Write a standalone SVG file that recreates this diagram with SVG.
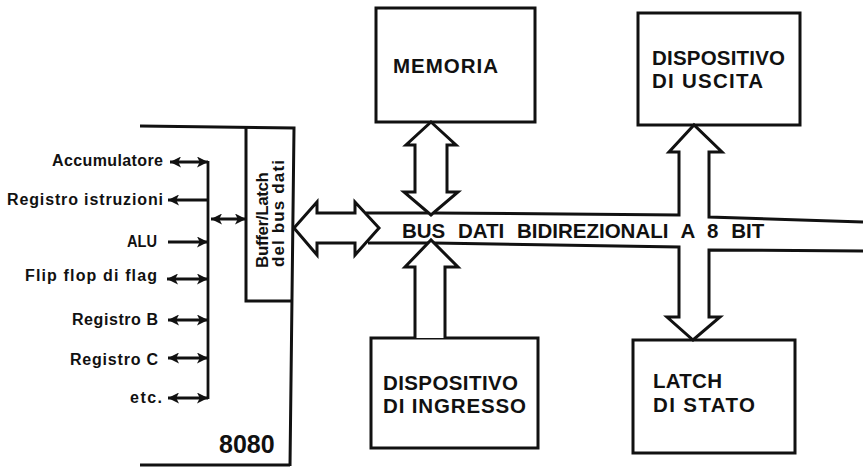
<svg xmlns="http://www.w3.org/2000/svg" width="863" height="468" viewBox="0 0 863 468">
  <style>
    .ln { fill: none; stroke: #111; stroke-width: 3; stroke-linejoin: miter; }
    .thin { fill: none; stroke: #111; stroke-width: 2.8; }
    .box { fill: #fff; stroke: #111; stroke-width: 3; }
    .wa { fill: #fff; stroke: #111; stroke-width: 3; stroke-linejoin: miter; }
    .t { font-family: "Liberation Sans", Arial, sans-serif; font-weight: bold; fill: #111; }
    .lab { font-size: 16px; }
    .big { font-size: 20.5px; }
  </style>
  <defs>
    <marker id="ah" viewBox="0 0 10 10" refX="10" refY="5" markerWidth="12" markerHeight="11" markerUnits="userSpaceOnUse" orient="auto-start-reverse">
      <path d="M0,0 L10,5 L0,10 L2.5,5 z" fill="#111"/>
    </marker>
  </defs>
  <rect width="863" height="468" fill="#fff"/>

  <g id="cpu">
    <polyline class="ln" points="140,126 294,128 290,466"/>
    <line class="ln" x1="140" y1="465" x2="290" y2="465"/>
    <text class="t" x="219" y="453" font-size="25">8080</text>
    <text class="t lab" x="52" y="166" textLength="111" lengthAdjust="spacing">Accumulatore</text>
    <text class="t lab" x="7" y="205" textLength="156" lengthAdjust="spacing">Registro  istruzioni</text>
    <text class="t lab" x="127" y="247" textLength="30" lengthAdjust="spacingAndGlyphs">ALU</text>
    <text class="t lab" x="25" y="281" textLength="132" lengthAdjust="spacing">Flip flop di flag</text>
    <text class="t lab" x="72" y="325" textLength="86" lengthAdjust="spacing">Registro B</text>
    <text class="t lab" x="70" y="365" textLength="88" lengthAdjust="spacing">Registro C</text>
    <text class="t lab" x="130" y="403" textLength="32" lengthAdjust="spacing">etc.</text>
  </g>

  <g id="buffer">
    <polyline class="ln" points="246,127 246,301 292,301"/>
    <text class="t" font-size="17" transform="translate(268,268) rotate(-90)" textLength="96" lengthAdjust="spacing">Buffer/Latch</text>
    <text class="t" font-size="17" transform="translate(284,267) rotate(-90)" textLength="107" lengthAdjust="spacing">del bus dati</text>
  </g>

  <g id="memoria">
    <rect class="box" x="376" y="8" width="159" height="114"/>
    <text class="t big" x="393" y="73" textLength="105" lengthAdjust="spacing">MEMORIA</text>
  </g>

  <g id="uscita">
    <rect class="box" x="638" y="13" width="162" height="112"/>
    <text class="t big" x="652" y="65" textLength="133" lengthAdjust="spacing">DISPOSITIVO</text>
    <text class="t big" x="652" y="88" textLength="111" lengthAdjust="spacing">DI USCITA</text>
  </g>

  <g id="ingresso">
    <rect class="box" x="371" y="338" width="167" height="110"/>
    <text class="t big" x="383" y="390" textLength="135" lengthAdjust="spacing">DISPOSITIVO</text>
    <text class="t big" x="383" y="413" textLength="143" lengthAdjust="spacing">DI INGRESSO</text>
  </g>

  <g id="latch">
    <rect class="box" x="633" y="340" width="162" height="113"/>
    <text class="t big" x="653" y="388" textLength="69" lengthAdjust="spacing">LATCH</text>
    <text class="t big" x="653" y="412" textLength="102" lengthAdjust="spacing">DI STATO</text>
  </g>

  <g id="connectors">
    <line class="thin" x1="208" y1="161" x2="208" y2="399"/>
    <line class="thin" x1="170" y1="162" x2="208" y2="162" marker-start="url(#ah)" marker-end="url(#ah)"/>
    <line class="thin" x1="168" y1="200" x2="208" y2="200" marker-start="url(#ah)"/>
    <line class="thin" x1="211" y1="219" x2="246" y2="219" marker-start="url(#ah)" marker-end="url(#ah)"/>
    <line class="thin" x1="168" y1="242" x2="208" y2="242" marker-end="url(#ah)"/>
    <line class="thin" x1="167" y1="279" x2="208" y2="279" marker-start="url(#ah)" marker-end="url(#ah)"/>
    <line class="thin" x1="168" y1="320" x2="208" y2="320" marker-start="url(#ah)" marker-end="url(#ah)"/>
    <line class="thin" x1="168" y1="358" x2="208" y2="358" marker-start="url(#ah)" marker-end="url(#ah)"/>
    <line class="thin" x1="168" y1="398" x2="208" y2="398" marker-start="url(#ah)" marker-end="url(#ah)"/>

    <path class="wa" d="M294,228 L317,202 L317,213 L355,213 L355,202 L379,228 L355,255 L355,243 L317,243 L317,255 Z"/>

    <path class="wa" d="M431,122 L456,145 L447,145 L447,192 L458,192 L431,215 L404,192 L415,192 L415,145 L406,145 Z"/>
    <path class="wa" d="M415,338 L415,267 L405,267 L431,240 L458,267 L445,267 L445,338"/>

    <path class="ln" d="M366,213 L428,213"/>
    <path class="ln" d="M434,213 L679,215 L679,152 L669,152 L694,125 L722,152 L709,152 L709,217 L863,222"/>
    <path class="ln" d="M368,243 L428,243"/>
    <path class="ln" d="M434,243 L679,247 L679,317 L667,317 L693,340 L720,317 L709,317 L709,250 L863,251"/>

    <text class="t big" x="402" y="238" word-spacing="7">BUS DATI BIDIREZIONALI A 8 BIT</text>
  </g>
</svg>
